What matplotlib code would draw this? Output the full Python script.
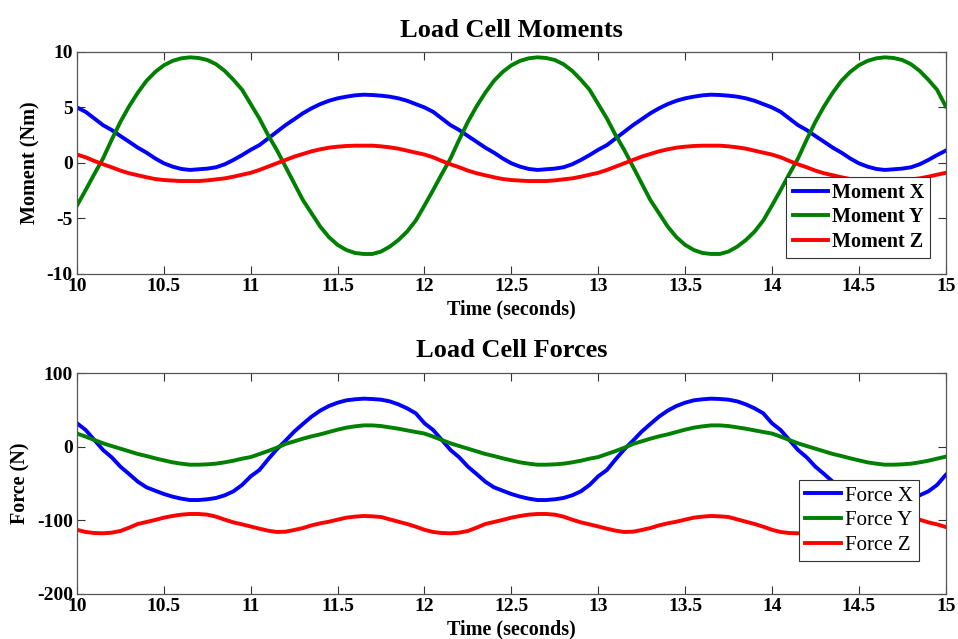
import numpy as np
import matplotlib
matplotlib.use("Agg")
import matplotlib.pyplot as plt

# time axis (seconds), samples every 0.05 s from 10.00 to 15.00
time_s = [round(10 + 0.05 * i, 2) for i in range(101)]

moment_x = [
    5.0, 4.6, 4.0, 3.4, 2.96, 2.42, 1.9, 1.37, 0.92, 0.4, -0.04, -0.34, -0.55, -0.64, -0.58, -0.52, -0.4, -0.13, 0.26, 0.7,
    1.18, 1.6, 2.2, 2.8, 3.4, 3.93, 4.47, 4.92, 5.3, 5.6, 5.82, 5.97, 6.09, 6.15, 6.12, 6.06, 5.97, 5.82, 5.6, 5.3,
    5.0, 4.6, 4.0, 3.4, 2.96, 2.42, 1.9, 1.37, 0.92, 0.4, -0.04, -0.34, -0.55, -0.64, -0.58, -0.52, -0.4, -0.13, 0.26, 0.7,
    1.18, 1.6, 2.2, 2.8, 3.4, 3.93, 4.47, 4.92, 5.3, 5.6, 5.82, 5.97, 6.09, 6.15, 6.12, 6.06, 5.97, 5.82, 5.6, 5.3,
    5.0, 4.6, 4.0, 3.4, 2.96, 2.42, 1.9, 1.37, 0.92, 0.4, -0.04, -0.34, -0.55, -0.64, -0.58, -0.52, -0.4, -0.13, 0.26, 0.7,
    1.1]

moment_y = [
    -3.85, -2.45, -1.0, 0.4, 2.1, 3.7, 5.1, 6.33, 7.4, 8.2, 8.8, 9.2, 9.43, 9.52, 9.46, 9.28, 8.9, 8.3, 7.5, 6.6,
    5.3, 4.0, 2.5, 1.16, -0.34, -1.85, -3.35, -4.55, -5.75, -6.7, -7.4, -7.86, -8.13, -8.22, -8.22, -8.0, -7.56, -6.96, -6.2, -5.2,
    -3.85, -2.45, -1.0, 0.4, 2.1, 3.7, 5.1, 6.33, 7.4, 8.2, 8.8, 9.2, 9.43, 9.52, 9.46, 9.28, 8.9, 8.3, 7.5, 6.6,
    5.3, 4.0, 2.5, 1.16, -0.34, -1.85, -3.35, -4.55, -5.75, -6.7, -7.4, -7.86, -8.13, -8.22, -8.22, -8.0, -7.56, -6.96, -6.2, -5.2,
    -3.85, -2.45, -1.0, 0.4, 2.1, 3.7, 5.1, 6.33, 7.4, 8.2, 8.8, 9.2, 9.43, 9.52, 9.46, 9.28, 8.9, 8.3, 7.5, 6.6,
    5.1]

moment_z = [
    0.75, 0.5, 0.17, -0.13, -0.4, -0.7, -0.94, -1.12, -1.3, -1.46, -1.55, -1.6, -1.64, -1.64, -1.64, -1.58, -1.49, -1.4, -1.25, -1.07,
    -0.9, -0.64, -0.34, -0.04, 0.26, 0.56, 0.8, 1.04, 1.22, 1.37, 1.46, 1.52, 1.55, 1.55, 1.55, 1.49, 1.4, 1.28, 1.1, 0.92,
    0.75, 0.5, 0.17, -0.13, -0.4, -0.7, -0.94, -1.12, -1.3, -1.46, -1.55, -1.6, -1.64, -1.64, -1.64, -1.58, -1.49, -1.4, -1.25, -1.07,
    -0.9, -0.64, -0.34, -0.04, 0.26, 0.56, 0.8, 1.04, 1.22, 1.37, 1.46, 1.52, 1.55, 1.55, 1.55, 1.49, 1.4, 1.28, 1.1, 0.92,
    0.75, 0.5, 0.17, -0.13, -0.4, -0.7, -0.94, -1.12, -1.3, -1.46, -1.55, -1.6, -1.64, -1.64, -1.64, -1.58, -1.49, -1.4, -1.25, -1.07,
    -0.9]

force_x = [
    32.0, 22.8, 9.2, -4.4, -14.4, -27.1, -37.1, -47.5, -55.2, -59.8, -64.3, -67.9, -70.6, -72.5, -72.5, -71.5, -69.7, -66.1, -60.7, -52.0,
    -40.2, -31.6, -17.1, -3.5, 8.3, 20.6, 31.0, 41.0, 49.2, 55.5, 60.0, 63.2, 64.6, 65.5, 65.0, 64.1, 61.8, 57.7, 52.3, 45.5,
    32.0, 22.8, 9.2, -4.4, -14.4, -27.1, -37.1, -47.5, -55.2, -59.8, -64.3, -67.9, -70.6, -72.5, -72.5, -71.5, -69.7, -66.1, -60.7, -52.0,
    -40.2, -31.6, -17.1, -3.5, 8.3, 20.6, 31.0, 41.0, 49.2, 55.5, 60.0, 63.2, 64.6, 65.5, 65.0, 64.1, 61.8, 57.7, 52.3, 45.5,
    32.0, 22.8, 9.2, -4.4, -14.4, -27.1, -37.1, -47.5, -55.2, -59.8, -64.3, -67.9, -70.6, -72.5, -72.5, -71.5, -69.7, -66.1, -60.7, -52.0,
    -38.4]

force_y = [
    18.0, 13.8, 9.2, 4.7, 1.0, -2.6, -6.2, -9.8, -12.6, -15.7, -18.5, -21.2, -23.0, -24.4, -24.4, -23.9, -23.0, -21.2, -19.0, -16.2,
    -14.0, -9.9, -5.8, -1.3, 3.8, 7.4, 11.0, 14.2, 16.9, 20.1, 23.3, 26.0, 27.8, 29.1, 29.1, 28.2, 26.4, 24.6, 22.3, 20.1,
    18.0, 13.8, 9.2, 4.7, 1.0, -2.6, -6.2, -9.8, -12.6, -15.7, -18.5, -21.2, -23.0, -24.4, -24.4, -23.9, -23.0, -21.2, -19.0, -16.2,
    -14.0, -9.9, -5.8, -1.3, 3.8, 7.4, 11.0, 14.2, 16.9, 20.1, 23.3, 26.0, 27.8, 29.1, 29.1, 28.2, 26.4, 24.6, 22.3, 20.1,
    18.0, 13.8, 9.2, 4.7, 1.0, -2.6, -6.2, -9.8, -12.6, -15.7, -18.5, -21.2, -23.0, -24.4, -24.4, -23.9, -23.0, -21.2, -19.0, -16.2,
    -13.5]

force_z = [
    -113.0, -116.0, -117.4, -117.8, -116.9, -114.6, -110.1, -105.1, -102.4, -99.6, -96.5, -94.2, -92.4, -91.5, -91.5, -92.4, -95.1, -99.2, -102.9, -105.6,
    -108.5, -111.5, -114.2, -116.0, -115.6, -113.3, -110.6, -107.0, -104.2, -102.0, -99.2, -96.5, -95.1, -94.2, -94.7, -95.6, -98.8, -102.0, -105.1, -108.8,
    -113.0, -116.0, -117.4, -117.8, -116.9, -114.6, -110.1, -105.1, -102.4, -99.6, -96.5, -94.2, -92.4, -91.5, -91.5, -92.4, -95.1, -99.2, -102.9, -105.6,
    -108.5, -111.5, -114.2, -116.0, -115.6, -113.3, -110.6, -107.0, -104.2, -102.0, -99.2, -96.5, -95.1, -94.2, -94.7, -95.6, -98.8, -102.0, -105.1, -108.8,
    -113.0, -116.0, -117.4, -117.8, -116.9, -114.6, -110.1, -105.1, -102.4, -99.6, -96.5, -94.2, -92.4, -91.5, -91.5, -92.4, -95.1, -99.2, -102.9, -105.6,
    -109.2]

x_ticks = [10, 10.5, 11, 11.5, 12, 12.5, 13, 13.5, 14, 14.5, 15]
x_ticklabels = ["10", "10.5", "11", "11.5", "12", "12.5", "13", "13.5", "14", "14.5", "15"]
moment_ticks = [-10, -5, 0, 5, 10]
force_ticks = [-200, -100, 0, 100]
moment_labels = ["Moment X", "Moment Y", "Moment Z"]
force_labels = ["Force X", "Force Y", "Force Z"]

plt.rcParams['font.family'] = ['Liberation Serif', 'DejaVu Serif']

colors = ['#0000ff', '#008000', '#ff0000']
W, H = 958, 639
fig = plt.figure(figsize=(W / 100, H / 100), dpi=100)


def frac_axes(left, top, right, bottom):
    return fig.add_axes([left / W, 1 - bottom / H, (right - left) / W, (bottom - top) / H])


def style(ax, yticks, ylim):
    ax.set_xlim(10, 15)
    ax.set_ylim(*ylim)
    ax.set_xticks(x_ticks)
    ax.set_xticklabels(x_ticklabels)
    ax.set_yticks(yticks)
    ax.set_yticklabels([str(v) for v in yticks])
    ax.tick_params(direction='in', length=5.5, width=0.8, color='#333333',
                   top=True, right=True, labelsize=14, pad=3)
    for lab in ax.get_xticklabels() + ax.get_yticklabels():
        lab.set_fontweight('bold')
    for s in ax.spines.values():
        s.set_color('#555555')
        s.set_linewidth(0.9)


ax1 = frac_axes(77, 52, 945.7, 273.7)
for vals, c, lab in zip([moment_x, moment_y, moment_z], colors, moment_labels):
    ax1.plot(time_s, vals, color=c, lw=2.8, label=lab)
style(ax1, moment_ticks, (-10, 10))
ax1.text(0.5, 1.0677, "Load Cell Moments", transform=ax1.transAxes, ha='center',
         va='baseline', fontsize=19, fontweight='bold')
ax1.set_xlabel("Time (seconds)", fontsize=14.5, fontweight='bold')
ax1.xaxis.set_label_coords(0.5, -0.117)
ax1.set_ylabel("Moment (Nm)", fontsize=14.5, fontweight='bold')
ax1.yaxis.set_label_coords(-0.0426, 0.5)
leg1 = ax1.legend(loc='lower right', bbox_to_anchor=(0.982, 0.0695), borderaxespad=0,
                  prop={'weight': 'bold', 'size': 14.5}, fancybox=False, framealpha=1,
                  edgecolor='#333333', handlelength=1.75, handletextpad=0.2,
                  labelspacing=0.24, borderpad=0.3)
leg1.get_frame().set_linewidth(0.8)
for ln in leg1.get_lines():
    ln.set_linewidth(2.8)

ax2 = frac_axes(77, 373.3, 945.7, 593.7)
for vals, c, lab in zip([force_x, force_y, force_z], colors, force_labels):
    ax2.plot(time_s, vals, color=c, lw=2.8, label=lab)
style(ax2, force_ticks, (-200, 100))
ax2.text(0.5, 1.0753, "Load Cell Forces", transform=ax2.transAxes, ha='center',
         va='baseline', fontsize=19, fontweight='bold')
ax2.set_xlabel("Time (seconds)", fontsize=14.5, fontweight='bold')
ax2.xaxis.set_label_coords(0.5, -0.117)
ax2.set_ylabel("Force (N)", fontsize=14.5, fontweight='bold')
ax2.yaxis.set_label_coords(-0.0541, 0.5)
leg2 = ax2.legend(loc='lower right', bbox_to_anchor=(0.9693, 0.148), borderaxespad=0,
                  prop={'size': 15}, fancybox=False, framealpha=1,
                  edgecolor='#333333', handlelength=1.7, handletextpad=0.2,
                  labelspacing=0.24, borderpad=0.3)
leg2.get_frame().set_linewidth(0.8)
for ln in leg2.get_lines():
    ln.set_linewidth(2.8)

fig.savefig("out.png", dpi=100)
